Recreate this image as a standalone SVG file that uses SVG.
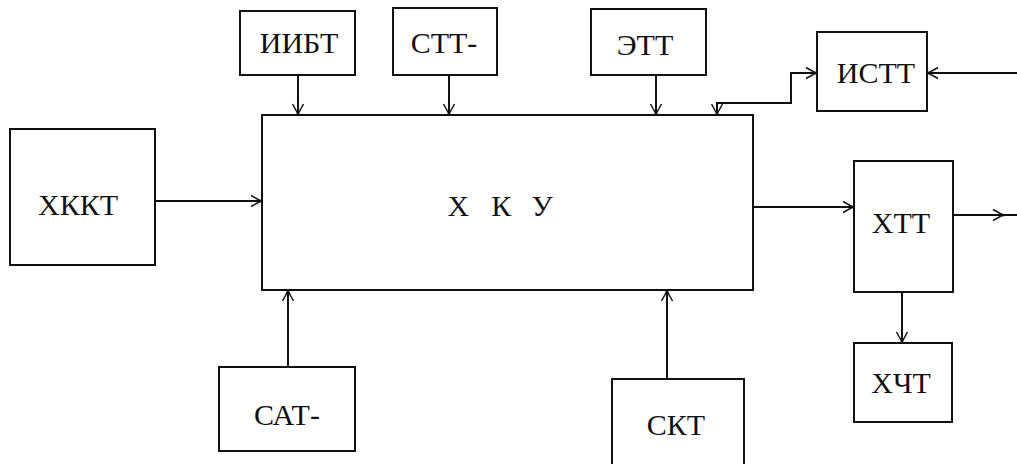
<svg xmlns="http://www.w3.org/2000/svg" width="1017" height="464" viewBox="0 0 1017 464">
<style>
.box{fill:#fff;stroke:#111;stroke-width:2}
.lbl{font-family:"Liberation Serif","Times New Roman",serif;font-size:30px;fill:#111;text-anchor:middle}
.c{fill:none;stroke:#111;stroke-width:2}
</style>
<defs>
<marker id="ah" markerUnits="userSpaceOnUse" markerWidth="14" markerHeight="14" viewBox="-12 -7 14 14" refX="0" refY="0" orient="auto">
<path d="M-10,-5.5 L0,0 L-10,5.5" fill="none" stroke="#111" stroke-width="1.5"/>
<circle cx="0" cy="0" r="1.5" fill="#111"/>
</marker>
<marker id="as" markerUnits="userSpaceOnUse" markerWidth="14" markerHeight="14" viewBox="-12 -7 14 14" refX="0" refY="0" orient="auto-start-reverse">
<path d="M-10,-5.5 L0,0 L-10,5.5" fill="none" stroke="#111" stroke-width="1.5"/>
<circle cx="0" cy="0" r="1.5" fill="#111"/>
</marker>
</defs>
<rect width="1017" height="464" fill="#fff"/>
<g id="connectors">
<path class="c" d="M155 201 L261 201" marker-end="url(#ah)"/>
<path class="c" d="M298 75 L298 114" marker-end="url(#ah)"/>
<path class="c" d="M449 75 L449 114" marker-end="url(#ah)"/>
<path class="c" d="M656 75 L656 114" marker-end="url(#ah)"/>
<path class="c" d="M717 114 L717 103 L791 103 L791 73 L816 73" marker-start="url(#as)" marker-end="url(#as)"/>
<path class="c" d="M1017 73 L928 73" marker-end="url(#ah)"/>
<path class="c" d="M753 207 L853 207" marker-end="url(#ah)"/>
<path class="c" d="M953 215 L1003 215" marker-end="url(#ah)"/>
<path class="c" d="M1003 215 L1017 215"/>
<path class="c" d="M902 292 L902 342" marker-end="url(#ah)"/>
<path class="c" d="M288 367 L288 291" marker-end="url(#ah)"/>
<path class="c" d="M667 379 L667 291" marker-end="url(#ah)"/>
</g>
<g id="xku"><rect class="box" x="262" y="115" width="491" height="175"/><text class="lbl" y="216"><tspan x="462">Х</tspan> <tspan x="505">К</tspan> <tspan x="542">У</tspan></text></g>
<g id="xkkt"><rect class="box" x="10" y="129" width="145" height="136"/><text class="lbl" x="78" y="215">ХККТ</text></g>
<g id="iibt"><rect class="box" x="240" y="11" width="115" height="64"/><text class="lbl" x="299" y="53">ИИБТ</text></g>
<g id="stt"><rect class="box" x="393" y="8" width="104" height="67"/><text class="lbl" x="444" y="53">СТТ-</text></g>
<g id="ett"><rect class="box" x="591" y="9" width="115" height="66"/><text class="lbl" x="645" y="55">ЭТТ</text></g>
<g id="istt"><rect class="box" x="817" y="32" width="110" height="79"/><text class="lbl" x="876" y="83">ИСТТ</text></g>
<g id="xtt"><rect class="box" x="854" y="161" width="99" height="131"/><text class="lbl" x="901" y="233">ХТТ</text></g>
<g id="xcht"><rect class="box" x="854" y="343" width="98" height="79"/><text class="lbl" x="901" y="393">ХЧТ</text></g>
<g id="sat"><rect class="box" x="219" y="367" width="136" height="84"/><text class="lbl" x="287" y="425">САТ-</text></g>
<g id="skt"><rect class="box" x="612" y="379" width="132" height="90"/><text class="lbl" x="676" y="435">СКТ</text></g>
</svg>
